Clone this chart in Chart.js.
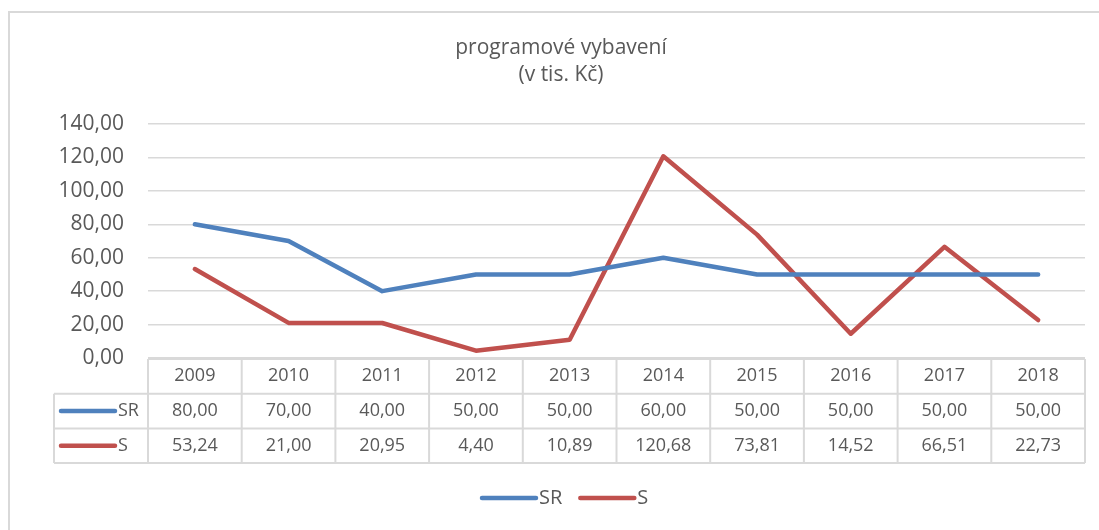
<!DOCTYPE html>
<html>
<head>
<meta charset="utf-8">
<script src="https://cdn.jsdelivr.net/npm/chart.js@4/dist/chart.umd.min.js"></script>
<style>
  html, body { margin: 0; padding: 0; background: #fff; }
  #wrap { position: relative; width: 1099px; height: 530px; }
</style>
</head>
<body>
<div id="wrap"><canvas id="c" width="1099" height="530"></canvas></div>
<script>
const titleLines = ['programové vybavení', '(v tis. Kč)'];
const years = ['2009', '2010', '2011', '2012', '2013', '2014', '2015', '2016', '2017', '2018'];
const seriesSR = [80.00, 70.00, 40.00, 50.00, 50.00, 60.00, 50.00, 50.00, 50.00, 50.00];
const seriesS = [53.24, 21.00, 20.95, 4.40, 10.89, 120.68, 73.81, 14.52, 66.51, 22.73];
const seriesNames = ['SR', 'S'];
const yTicks = [0, 20, 40, 60, 80, 100, 120, 140];

const FONT = '"Open Sans", "Noto Sans", sans-serif';
const TEXT = '#595959';
const LINE = '#d9d9d9';
const fmt = v => v.toFixed(2).replace('.', ',');

const decor = {
  id: 'decor',
  beforeDraw(chart) {
    const ctx = chart.ctx;
    ctx.save();
    ctx.fillStyle = '#fff';
    ctx.fillRect(0, 0, chart.width, chart.height);
    ctx.strokeStyle = LINE;
    ctx.lineWidth = 2;
    ctx.strokeRect(9, 12, 1300, 700);
    // title
    ctx.fillStyle = TEXT;
    ctx.font = '21px ' + FONT;
    ctx.textAlign = 'center';
    ctx.textBaseline = 'middle';
    titleLines.forEach((t, i) => ctx.fillText(t, 561, 48 + i * 27));
    ctx.restore();
  },
  afterDraw(chart) {
    const ctx = chart.ctx;
    const xs = chart.scales.x;
    const ca = chart.chartArea;
    const n = years.length;
    const colW = (ca.right - ca.left) / n;
    const top = ca.bottom + 1;
    const rowH = 34.7;
    const keyLeft = 54;
    ctx.save();
    ctx.strokeStyle = LINE;
    ctx.lineWidth = 2;
    ctx.beginPath();
    ctx.moveTo(ca.left, top); ctx.lineTo(ca.right, top);
    for (let r = 1; r <= 3; r++) {
      const y = top + r * rowH;
      ctx.moveTo(keyLeft, y); ctx.lineTo(ca.right, y);
    }
    for (let i = 0; i <= n; i++) {
      const x = ca.left + i * colW;
      ctx.moveTo(x, top); ctx.lineTo(x, top + 3 * rowH);
    }
    ctx.moveTo(keyLeft, top + rowH); ctx.lineTo(keyLeft, top + 3 * rowH);
    ctx.stroke();

    ctx.fillStyle = TEXT;
    ctx.font = '18px ' + FONT;
    ctx.textAlign = 'center';
    ctx.textBaseline = 'middle';
    years.forEach((yr, i) => {
      ctx.fillText(yr, xs.getPixelForValue(i), top + rowH / 2);
    });
    chart.data.datasets.forEach((ds, d) => {
      const cy = top + rowH * (d + 1.5);
      ds.data.forEach((v, i) => {
        ctx.fillText(fmt(v), xs.getPixelForValue(i), cy);
      });
      ctx.strokeStyle = ds.borderColor;
      ctx.lineWidth = 4.5;
      ctx.lineCap = 'round';
      ctx.beginPath();
      ctx.moveTo(61, cy); ctx.lineTo(115, cy);
      ctx.stroke();
      ctx.textAlign = 'left';
      ctx.fillText(ds.label, 118, cy);
      ctx.textAlign = 'center';
    });

    // bottom legend
    ctx.font = '20px ' + FONT;
    ctx.textAlign = 'left';
    let lx = 482;
    const ly = 498;
    chart.data.datasets.forEach((ds) => {
      ctx.strokeStyle = ds.borderColor;
      ctx.lineWidth = 4.5;
      ctx.lineCap = 'round';
      ctx.beginPath();
      ctx.moveTo(lx, ly); ctx.lineTo(lx + 54, ly);
      ctx.stroke();
      ctx.fillStyle = TEXT;
      ctx.fillText(ds.label, lx + 57, ly);
      lx += 57 + ctx.measureText(ds.label).width + 18;
    });
    ctx.restore();
  }
};

new Chart(document.getElementById('c'), {
  type: 'line',
  data: {
    labels: years,
    datasets: [
      { label: seriesNames[0], data: seriesSR, borderColor: '#4F81BD', backgroundColor: '#4F81BD' },
      { label: seriesNames[1], data: seriesS, borderColor: '#C0504D', backgroundColor: '#C0504D' }
    ]
  },
  options: {
    responsive: false,
    animation: false,
    events: [],
    layout: { padding: { top: 124, left: 0, right: 14, bottom: 0 } },
    elements: {
      line: { borderWidth: 4.5, tension: 0, borderCapStyle: 'round', borderJoinStyle: 'round' },
      point: { radius: 0 }
    },
    plugins: {
      legend: { display: false },
      title: { display: false },
      tooltip: { enabled: false }
    },
    scales: {
      x: {
        type: 'category',
        offset: true,
        grid: { display: false },
        border: { display: false },
        ticks: { display: false },
        afterFit(s) { s.height = 172; }
      },
      y: {
        min: 0,
        max: 140,
        afterBuildTicks(s) { s.ticks = yTicks.map(v => ({ value: v })); },
        grid: { color: LINE, lineWidth: 1.5, drawTicks: false },
        border: { display: false },
        ticks: {
          padding: 24,
          color: TEXT,
          font: { family: FONT, size: 21 },
          callback: v => fmt(v)
        },
        afterFit(s) { s.width = 148; }
      }
    }
  },
  plugins: [decor]
});
</script>
</body>
</html>
